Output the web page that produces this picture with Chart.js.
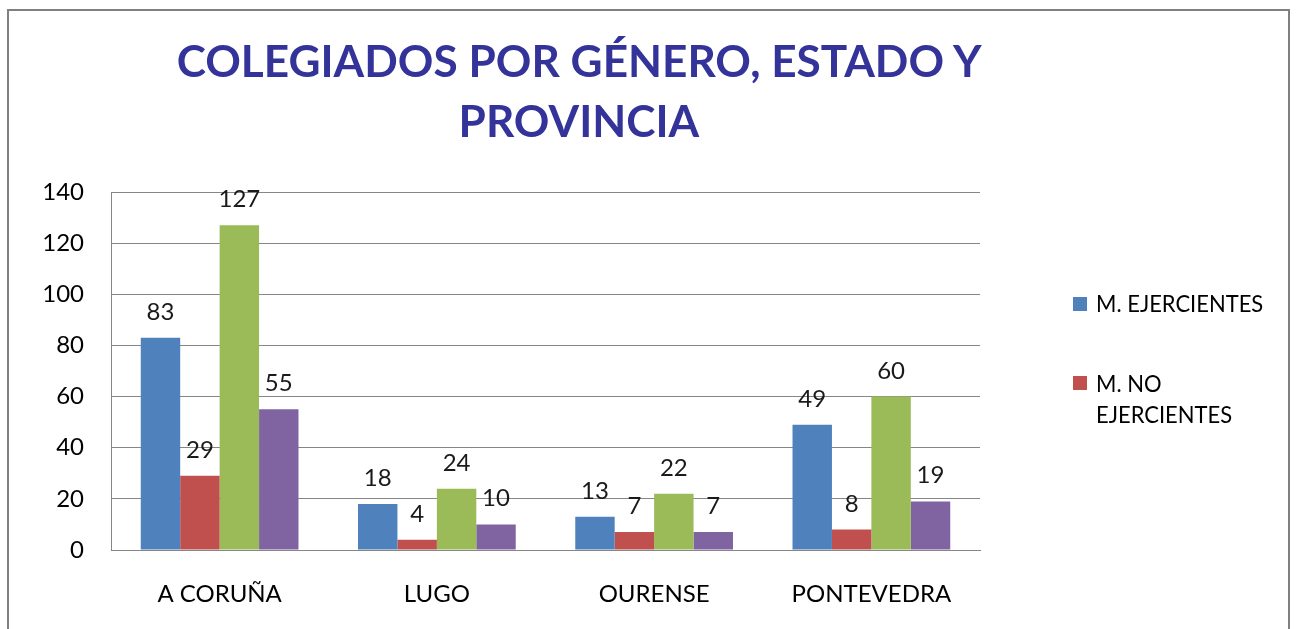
<!DOCTYPE html>
<html>
<head>
<meta charset="utf-8">
<script src="https://cdn.jsdelivr.net/npm/chart.js@4/dist/chart.umd.min.js"></script>
<style>
  html, body { margin: 0; padding: 0; background: #fff; width: 1297px; height: 629px; overflow: hidden; }
  #frame { position: absolute; left: 7px; top: 9px; width: 1279px; height: 700px; border: 2px solid #808080; }
  #c { position: absolute; left: 0; top: 0; }
  #title { position: absolute; left: 0; top: 30px; width: 1158px; text-align: center;
           font-family: Lato, "Open Sans", sans-serif; font-weight: bold; font-size: 44px; line-height: 60px; color: #333399; }
  #title span { display: inline-block; white-space: nowrap; transform-origin: 50% 50%; }
  .leg { position: absolute; font-family: Lato, sans-serif; font-size: 24px; line-height: 31.5px; color: #000;
         white-space: nowrap; transform-origin: 0 50%; }
  .box { position: absolute; width: 14px; height: 14px; }
</style>
</head>
<body>
<div id="frame"></div>
<canvas id="c" width="1297" height="629"></canvas>
<div id="title"><span id="t1">COLEGIADOS POR GÉNERO, ESTADO Y</span><br><span id="t2">PROVINCIA</span></div>
<div id="legend"></div>
<script>
const categories = ["A CORUÑA", "LUGO", "OURENSE", "PONTEVEDRA"];
const seriesNames = ["M. EJERCIENTES", "M. NO EJERCIENTES", "H. EJERCIENTES", "H. NO EJERCIENTES"];
const mEjercientes = [83, 18, 13, 49];
const mNoEjercientes = [29, 4, 7, 8];
const hEjercientes = [127, 24, 22, 60];
const hNoEjercientes = [55, 10, 7, 19];
const yTicks = [0, 20, 40, 60, 80, 100, 120, 140];
const colors = ["#4F81BD", "#C0504D", "#9BBB59", "#8064A2"];
const legendShown = [0, 1];
const legendLines = [["M. EJERCIENTES"], ["M. NO", "EJERCIENTES"]];

// title width fit
const t1 = document.getElementById('t1');
const t2 = document.getElementById('t2');
const s = 805 / t1.getBoundingClientRect().width;
t1.style.transform = 'scaleX(' + s + ')';
t2.style.transform = 'scaleX(' + s + ')';

// HTML legend
const legendDiv = document.getElementById('legend');
const legTops = [287, 366.5];
const boxTops = [297, 376];
legendShown.forEach((di, k) => {
  const b = document.createElement('div');
  b.className = 'box';
  b.style.left = '1073px';
  b.style.top = boxTops[k] + 'px';
  b.style.background = colors[di];
  legendDiv.appendChild(b);
  const t = document.createElement('div');
  t.className = 'leg';
  t.style.left = '1096px';
  t.style.top = legTops[k] + 'px';
  t.style.transform = 'scaleX(0.915)';
  t.innerHTML = legendLines[k].join('<br>');
  legendDiv.appendChild(t);
});

const valuePlugin = {
  id: 'values',
  afterDatasetsDraw(chart) {
    const ctx = chart.ctx;
    ctx.save();
    ctx.font = '24px Lato, sans-serif';
    ctx.fillStyle = '#1a1a1a';
    ctx.textAlign = 'center';
    ctx.textBaseline = 'alphabetic';
    chart.data.datasets.forEach((ds, i) => {
      const meta = chart.getDatasetMeta(i);
      meta.data.forEach((bar, j) => {
        ctx.fillText(String(ds.data[j]), bar.x, bar.y - 18);
      });
    });
    ctx.restore();
  }
};

const dataArrays = [mEjercientes, mNoEjercientes, hEjercientes, hNoEjercientes];

new Chart(document.getElementById('c'), {
  type: 'bar',
  data: {
    labels: categories,
    datasets: dataArrays.map((d, i) => ({
      label: seriesNames[i],
      data: d,
      backgroundColor: colors[i],
      borderWidth: 0,
      categoryPercentage: 0.726,
      barPercentage: 1.0
    }))
  },
  options: {
    responsive: false,
    animation: false,
    devicePixelRatio: 1,
    layout: { padding: { left: 0, top: 192, right: 317, bottom: 0 } },
    plugins: { legend: { display: false }, title: { display: false }, tooltip: { enabled: false } },
    scales: {
      x: {
        grid: { display: false, drawTicks: false },
        border: { display: true, color: '#868686', width: 1 },
        ticks: { color: '#000', font: { family: 'Lato', size: 24 }, padding: 30, maxRotation: 0 },
        afterFit(scale) { scale.height = 79; }
      },
      y: {
        min: 0, max: 140,
        afterBuildTicks(scale) { scale.ticks = yTicks.map(v => ({ value: v })); },
        grid: { color: '#868686', lineWidth: 1, drawTicks: false },
        border: { display: true, color: '#868686', width: 1 },
        ticks: { color: '#000', font: { family: 'Lato', size: 24 }, padding: 27 },
        afterFit(scale) { scale.width = 111; }
      }
    }
  },
  plugins: [valuePlugin]
});
</script>
</body>
</html>
